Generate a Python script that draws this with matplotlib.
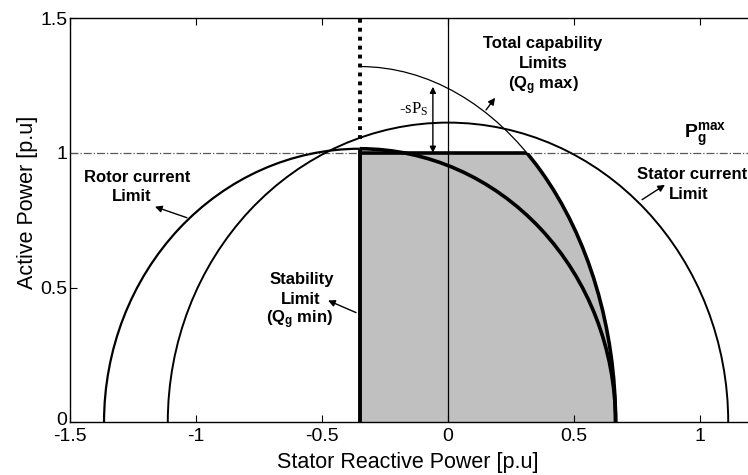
import matplotlib
matplotlib.use("Agg")
import matplotlib.pyplot as plt
import matplotlib.transforms as mtransforms
from matplotlib.patches import Arc, Ellipse, Rectangle

plt.rcParams['font.family'] = ['Liberation Sans', 'DejaVu Sans']
plt.rcParams['mathtext.fontset'] = 'custom'
plt.rcParams['mathtext.rm'] = 'Liberation Serif'
plt.rcParams['mathtext.it'] = 'Liberation Serif:italic'
plt.rcParams['mathtext.bf'] = 'Liberation Sans:bold'

# limits (p.u)
stator_radius = 1.112
rotor_center = -0.35
rotor_radius = 1.015
total_height = 1.32        # top of total capability curve at Q = rotor_center
p_max = 1.0
q_min = -0.35

x_ticks = [-1.5, -1, -0.5, 0, 0.5, 1]
x_tick_labels = ['-1.5', '-1', '-0.5', '0', '0.5', '1']
y_ticks = [0, 0.5, 1, 1.5]
y_tick_labels = ['0', '0.5', '1', '1.5']

fig = plt.figure(figsize=(7.48, 4.75), dpi=100)
ax = fig.add_axes([0.0936, 0.111, 0.9096, 0.851])
ax.set_xlim(-1.5, 1.2)
ax.set_ylim(0, 1.5)

# operating region: below P max and inside the total capability curve
total_clip = Ellipse((rotor_center, 0), 2 * rotor_radius, 2 * total_height,
                     transform=ax.transData)
region = Rectangle((q_min, 0), 1.2, p_max, facecolor='#c0c0c0',
                   edgecolor='none', zorder=1)
ax.add_patch(region)
region.set_clip_path(total_clip)

below_pmax = Rectangle((-1.5, 0), 3, p_max, transform=ax.transData)

# P max dash-dot line
ax.axhline(p_max, color='0.35', lw=0.9, ls='-.', zorder=2)
# Q = 0 line
ax.axvline(0, color='black', lw=0.9, zorder=3)

# stator current limit
ax.add_patch(Arc((0, 0), 2 * stator_radius, 2 * stator_radius,
                 theta1=0, theta2=180, lw=1.4, color='black', zorder=4))

# rotor current limit: thin left half, thick right half
ax.add_patch(Arc((rotor_center, 0), 2 * rotor_radius, 2 * rotor_radius,
                 theta1=90, theta2=180, lw=1.6, color='black', zorder=4))
ax.add_patch(Arc((rotor_center, 0), 2 * rotor_radius, 2 * rotor_radius,
                 theta1=0, theta2=90, lw=2.6, color='black', zorder=5))

# total capability limit
ax.add_patch(Arc((rotor_center, 0), 2 * rotor_radius, 2 * total_height,
                 theta1=0, theta2=90, lw=0.9, color='black', zorder=4))
thick_total = Arc((rotor_center, 0), 2 * rotor_radius, 2 * total_height,
                  theta1=0, theta2=90, lw=2.6, color='black', zorder=5)
ax.add_patch(thick_total)
thick_total.set_clip_path(below_pmax)

# P max edge of region
top_edge, = ax.plot([q_min, 1.0], [p_max, p_max], color='black', lw=2.6,
                    zorder=5, solid_capstyle='butt')
top_edge.set_clip_path(total_clip)

# stability limit
ax.plot([q_min, q_min], [0, rotor_radius], color='black', lw=2.8, zorder=6,
        solid_capstyle='butt')
ax.plot([q_min, q_min], [1.05, 1.5], color='black', lw=2.8, zorder=6,
        ls=(0, (1, 1.3)))

# -sPs arrow
ax.annotate('', xy=(-0.06, 1.245), xytext=(-0.06, p_max),
            arrowprops=dict(arrowstyle='<|-|>', color='black', lw=1.0,
                            mutation_scale=9, shrinkA=0, shrinkB=0))
ax.text(-0.135, 1.16, r'-sP$_\mathrm{S}$', family='Liberation Serif',
        fontsize=12, ha='center', va='center')

# labels with arrows
bold = dict(fontsize=12, fontweight='bold', ha='center', va='center')
ax.text(0.377, 1.405, 'Total capability', **bold)
ax.text(0.377, 1.333, 'Limits', **bold)
ax.text(0.377, 1.25, r'(Q$_\mathbf{g}$ max)', **bold)
ax.text(0.968, 0.919, 'Stator current', **bold)
ax.text(0.955, 0.846, 'Limit', **bold)
ax.text(-1.234, 0.907, 'Rotor current', **bold)
ax.text(-1.255, 0.836, 'Limit', **bold)
ax.text(-0.58, 0.53, 'Stability', **bold)
ax.text(-0.585, 0.456, 'Limit', **bold)
ax.text(-0.59, 0.381, r'(Q$_\mathbf{g}$ min)', **bold)
ax.text(1.02, 1.065, r'$\mathbf{P_g^{max}}$', fontsize=14, ha='center',
        va='center')

arrow = dict(arrowstyle='-|>', color='black', lw=1.0, mutation_scale=10,
             shrinkA=0, shrinkB=0)
ax.annotate('', xy=(0.187, 1.204), xytext=(0.151, 1.159), arrowprops=arrow)
ax.annotate('', xy=(0.861, 0.881), xytext=(0.770, 0.826), arrowprops=arrow)
ax.annotate('', xy=(-1.163, 0.80), xytext=(-1.036, 0.759), arrowprops=arrow)
ax.annotate('', xy=(-0.476, 0.452), xytext=(-0.365, 0.407), arrowprops=arrow)

ax.set_xticks(x_ticks)
ax.set_xticklabels(x_tick_labels)
ax.set_yticks(y_ticks)
ax.set_yticklabels(y_tick_labels)
ax.tick_params(direction='in', top=True, right=False, length=5, width=0.8,
               labelsize=14)
ax.tick_params(axis='x', pad=4)
ax.tick_params(axis='y', pad=2)
# lift the "0" label a little so it clears "-1.5"
zero_label = ax.get_yticklabels()[0]
zero_label.set_transform(zero_label.get_transform() +
                         mtransforms.ScaledTranslation(0, 3 / 72,
                                                       fig.dpi_scale_trans))
ax.spines['right'].set_visible(False)
for s in ['left', 'top', 'bottom']:
    ax.spines[s].set_linewidth(1.0)
ax.set_xlabel('Stator Reactive Power [p.u]', fontsize=15.5)
ax.set_ylabel('Active Power [p.u]', fontsize=15.5)
ax.xaxis.set_label_coords(0.496, -0.099)
ax.yaxis.set_label_coords(-0.062, 0.545)
ax.yaxis.label.set_va('center')
ax.xaxis.label.set_va('center')

fig.savefig('out.png', dpi=100)
